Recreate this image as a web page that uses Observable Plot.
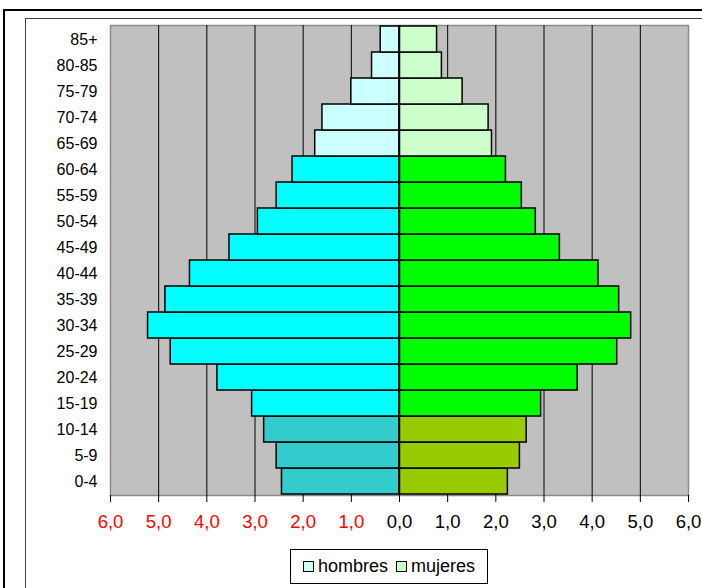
<!DOCTYPE html>
<html>
<head>
<meta charset="utf-8">
<script src="https://cdn.jsdelivr.net/npm/d3@7"></script>
<script src="https://cdn.jsdelivr.net/npm/@observablehq/plot@0.6"></script>
<style>
  html, body { margin: 0; padding: 0; background: #fff; }
  #wrap { position: relative; width: 702px; height: 588px; overflow: hidden; font-family: Arial, "Liberation Sans", sans-serif; }
  #outer { position: absolute; left: 3px; top: 9px; width: 720px; height: 600px; border: 2px solid #000; box-sizing: border-box; }
  #inner { position: absolute; left: 25px; top: 18px; width: 720px; height: 600px; border: 1.5px solid #404040; box-sizing: border-box; }
  #chart { position: absolute; left: 0; top: 0; }
  #legend { position: absolute; left: 290px; top: 549px; width: 198px; height: 35px; border: 1px solid #000; box-sizing: border-box; background: #fff;
    display: flex; align-items: center; justify-content: center; gap: 8px; font-size: 18px; color: #000; }
  .sw { display: inline-block; width: 9px; height: 9px; border: 1px solid #000; margin-right: 4px; vertical-align: middle; position: relative; top: -1px; }
</style>
</head>
<body>
<div id="wrap">
  <div id="outer"></div>
  <div id="inner"></div>
  <div id="chart"></div>
  <div id="legend">
    <span><span class="sw" style="background:#CCFFFF"></span>hombres</span>
    <span><span class="sw" style="background:#CCFFCC"></span>mujeres</span>
  </div>
</div>
<script>
// Age groups, bottom (0-4) to top (85+)
const ages = ["0-4","5-9","10-14","15-19","20-24","25-29","30-34","35-39","40-44","45-49","50-54","55-59","60-64","65-69","70-74","75-79","80-85","85+"];
// Percent of population
const hombres = [2.44, 2.55, 2.81, 3.06, 3.78, 4.75, 5.22, 4.86, 4.35, 3.53, 2.94, 2.55, 2.22, 1.75, 1.60, 1.00, 0.57, 0.39];
const mujeres = [2.25, 2.50, 2.64, 2.94, 3.70, 4.52, 4.81, 4.56, 4.13, 3.33, 2.83, 2.54, 2.21, 1.92, 1.85, 1.31, 0.88, 0.78];
// Age bands: 0-14 jóvenes, 15-64 adultos, 65+ mayores
const bandOf = (i) => i < 3 ? "joven" : (i < 13 ? "adulto" : "mayor");
const colorHombres = {joven: "#33CCCC", adulto: "#00FFFF", mayor: "#CCFFFF"};
const colorMujeres = {joven: "#99CC00", adulto: "#00FF00", mayor: "#CCFFCC"};
const xTicks = [-6,-5,-4,-3,-2,-1,0,1,2,3,4,5,6];

const rows = [];
ages.forEach((a, i) => {
  rows.push({age: a, sexo: "hombres", v: -hombres[i], color: colorHombres[bandOf(i)]});
  rows.push({age: a, sexo: "mujeres", v: mujeres[i], color: colorMujeres[bandOf(i)]});
});
const fmt = (d) => Math.abs(d).toFixed(1).replace(".", ",");

const chart = Plot.plot({
  width: 702,
  height: 540,
  marginLeft: 110,
  marginRight: 14,
  marginTop: 25,
  marginBottom: 45,
  style: {fontFamily: 'Arial, "Liberation Sans", sans-serif', background: "transparent"},
  x: {domain: [-6, 6], axis: null, label: null},
  y: {domain: ages.slice().reverse(), padding: 0, axis: null, label: null},
  color: {type: "identity"},
  marks: [
    Plot.frame({fill: "#C0C0C0", stroke: "#8a8a8a", strokeWidth: 1.5}),
    Plot.ruleX(xTicks.slice(1, -1), {stroke: "#000", strokeWidth: 1}),
    Plot.barX(rows, {y: "age", x1: 0, x2: "v", fill: "color", stroke: "#000", strokeWidth: 1.5}),
    Plot.ruleX([0], {stroke: "#000", strokeWidth: 1.5}),
    Plot.axisX(xTicks, {ticks: xTicks, tickSize: 7, tickFormat: () => "", stroke: "#000", label: null}),
    Plot.text(xTicks, {x: (d) => d, text: fmt, fill: (d) => d < 0 ? "#FF0000" : "#000000", frameAnchor: "bottom", dy: 32, fontSize: 18.5}),
    Plot.axisY({tickSize: 0, tickPadding: 13, fontSize: 16, fill: "#000", label: null})
  ]
});
document.getElementById("chart").appendChild(chart);
</script>
</body>
</html>
